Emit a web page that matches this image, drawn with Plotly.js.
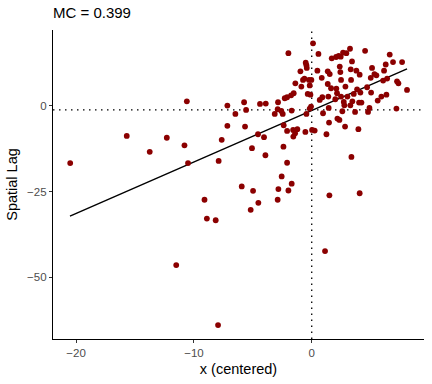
<!DOCTYPE html>
<html>
<head>
<meta charset="utf-8">
<script src="https://cdn.plot.ly/plotly-3.0.1.min.js"></script>
<style>html,body{margin:0;padding:0;background:#fff;}#chart{width:432px;height:384px;}</style>
</head>
<body>
<div id="chart"></div>
<script>
const xVals = [-20.5,-15.7,-13.75,-12.3,-10.6,-10.8,-10.5,-11.5,-9.1,-8.9,-8.15,-7.95,-7.9,-7.64,-7.16,-7.16,-6.48,-5.94,-5.74,-5.57,-5.66,-5.07,-4.98,-5.18,-4.53,-4.56,-4.39,-4.05,-3.93,-3.9,-3.14,-2.86,-2.89,-2.83,-2.89,-2.55,-2.4,-2.38,-2.46,-2.58,-2.29,-2.09,-2.09,-2.09,-1.98,-1.98,-1.7,-1.7,-1.75,-1.53,-1.58,-1.56,-1.41,-1.22,-1.39,-0.96,-0.88,-0.74,-0.62,-0.51,-0.45,-0.42,-0.54,-0.45,-0.34,-0.23,-0.17,-0.03,-0.17,-0.06,-0.11,0.11,0.03,0.25,0.57,0.48,0.68,0.85,0.9,0.96,1.13,1.25,1.36,1.36,1.41,1.44,1.47,1.5,1.53,1.64,1.7,2.0,2.07,2.09,2.15,2.18,2.29,2.35,2.38,2.43,2.46,2.49,2.49,2.6,2.66,2.72,2.77,2.83,2.94,2.86,3.03,3.25,3.31,3.34,3.28,3.37,3.42,3.45,3.57,3.68,3.79,3.85,3.96,4.07,4.07,4.02,4.13,4.22,4.53,4.7,4.78,4.9,5.04,5.01,5.12,5.32,5.49,5.6,5.91,6.06,6.14,6.28,6.34,6.4,6.62,6.9,7.19,7.24,7.36,7.67,8.09];
const lagVals = [-16.7,-8.75,-13.4,-9.3,1.36,-11.5,-16.7,-46.5,-27.4,-32.9,-33.4,-64.0,-16.05,-9.9,0.1,-5.8,-2.33,-23.5,1.07,-1.17,-6.03,-12.35,-24.8,-30.35,-28.3,-8.27,0.58,-9.14,-14.4,0.68,-2.33,1.07,-0.97,-24.3,-27.4,-20.6,-11.9,-5.64,-2.33,-1.46,2.24,2.53,-7.3,-16.6,15.4,-24.7,-22.7,-1.36,3.1,3.7,-7.0,-8.95,-7.98,-6.8,6.6,10.1,5.64,7.6,8.0,12.65,11.9,11.1,-7.6,-2.33,3.5,7.6,6.0,7.6,-0.78,-0.19,3.3,18.3,-7.0,-7.2,15.2,10.3,1.75,8.2,2.53,-2.14,-42.4,-8.27,10.1,6.4,2.72,-0.58,-4.86,-26.1,9.3,5.16,13.9,1.95,14.3,5.06,3.7,-3.7,14.6,-4.1,11.5,9.9,14.4,7.6,2.72,-1.56,15.6,1.17,0.19,-6.03,15.4,5.64,2.72,16.7,10.7,7.6,0.19,-14.9,13.0,1.36,3.5,-1.75,10.3,4.86,-6.8,9.14,-25.5,0.97,3.9,0.97,16.1,5.45,-1.75,-0.58,3.9,8.2,11.1,9.3,8.95,1.56,2.72,7.4,10.3,12.1,3.3,8.0,15.0,12.8,-0.78,7.2,6.6,12.8,4.67];
const fitX = [-20.52, 8.09];
const fitY = [-32.19, 10.8];
const meanLag = [-1.17];
const meanX = [0];
const xTicks = [-20, -10, 0];
const yTicks = [-50, -25, 0];

const traces = [
  {x: fitX, y: fitY, type: 'scatter', mode: 'lines', line: {color: '#000', width: 1.4}, hoverinfo: 'skip'},
  {x: xVals, y: lagVals, type: 'scatter', mode: 'markers', marker: {color: '#8B0000', size: 5.8}, hoverinfo: 'skip'}
];
const fam = 'Liberation Sans, Arial, sans-serif';
const fmt = v => v < 0 ? '\u2212' + Math.abs(v) : String(v);
const layout = {
  width: 432, height: 384,
  margin: {l: 53, r: 8, t: 30, b: 45},
  paper_bgcolor: '#fff', plot_bgcolor: '#fff',
  showlegend: false,
  font: {family: fam, color: '#000'},
  title: {text: 'MC = 0.399', x: 53/432, xanchor: 'left', xref: 'container', y: 1 - 13/384, yanchor: 'middle', yref: 'container', font: {size: 15, color: '#000', family: fam}},
  xaxis: {range: [-21.96, 9.53], tickvals: xTicks, ticktext: xTicks.map(fmt), showgrid: false, zeroline: false, showline: true, linecolor: '#000', linewidth: 1.1, ticks: 'outside', ticklen: 3, tickcolor: '#333', tickwidth: 1, tickfont: {size: 11.5, color: '#4d4d4d'}, title: {text: 'x (centered)', font: {size: 14.5, color: '#000'}, standoff: 5}},
  yaxis: {range: [-68.08, 22.18], tickvals: yTicks, ticktext: yTicks.map(fmt), showgrid: false, zeroline: false, showline: true, linecolor: '#000', linewidth: 1.1, ticks: 'outside', ticklen: 3, tickcolor: '#333', tickwidth: 1, tickfont: {size: 11.5, color: '#4d4d4d'}, title: {text: 'Spatial Lag', font: {size: 14.5, color: '#000'}, standoff: 6}},
  shapes: [
    {type: 'line', xref: 'x', yref: 'paper', x0: meanX[0], x1: meanX[0], y0: 0, y1: 1, line: {color: '#000', width: 1.3, dash: '1.5px,4.5px'}, layer: 'below'},
    {type: 'line', xref: 'paper', yref: 'y', x0: 0, x1: 1, y0: meanLag[0], y1: meanLag[0], line: {color: '#000', width: 1.3, dash: '1.5px,4.5px'}, layer: 'below'}
  ]
};
Plotly.newPlot('chart', traces, layout, {displayModeBar: false, staticPlot: true});
</script>
</body>
</html>
